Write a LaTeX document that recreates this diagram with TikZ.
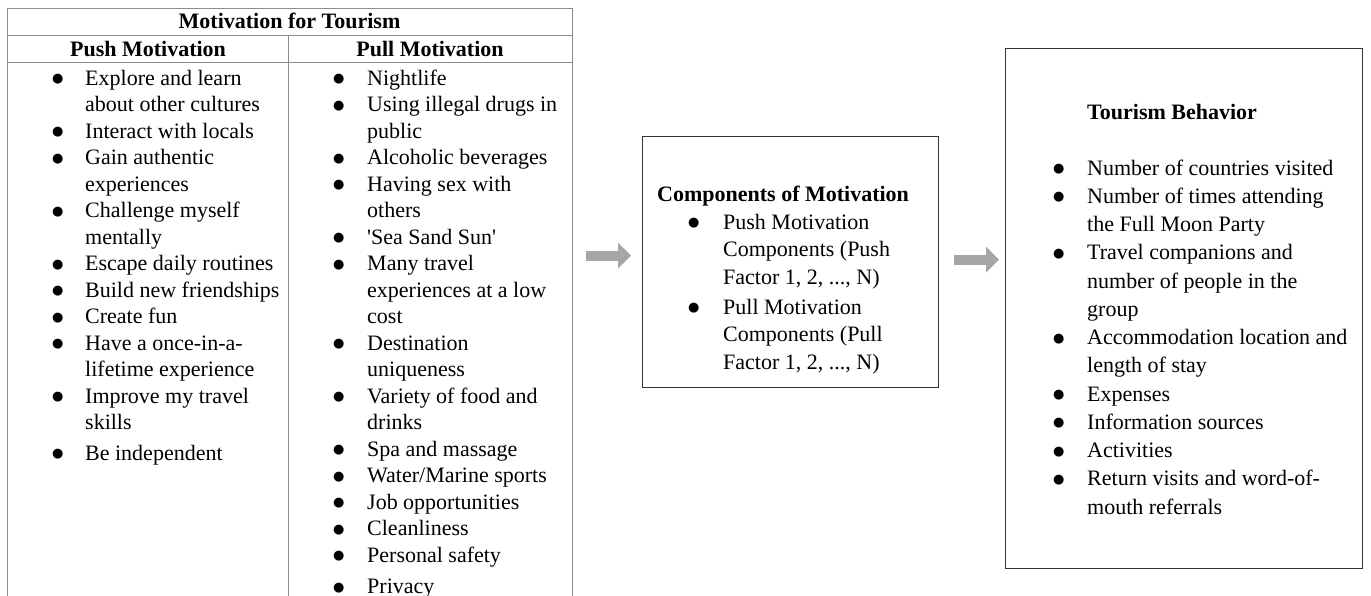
\documentclass[tikz,border=0pt]{standalone}
\usepackage{fontspec}
\setmainfont{Liberation Serif}
\newfontfamily\dotfont{DejaVu Sans}
\usetikzlibrary{arrows.meta, positioning, calc}

\newcommand{\bu}{\raisebox{2.5pt}{\dotfont\fontsize{13}{13}\selectfont ●}}

\tikzset{
  frame/.style={draw=black!80, line width=1.3pt, inner sep=0pt},
  gridline/.style={draw=black!45, line width=1pt},
  headtext/.style={font=\fontsize{22}{26}\selectfont\bfseries, inner sep=0pt},
  listtext/.style={inner sep=0pt, anchor=base west},
  flowarrow/.style={draw=black!35, line width=10pt, -{Triangle[length=13pt,width=25pt]}},
}

\begin{document}
\begin{tikzpicture}[x=1pt, y=-1pt]
  \clip (0,0) rectangle (1371,595);

  % table of motivations (runs on past the page)
  \node[gridline, inner sep=0pt, anchor=north west, minimum width=565pt, minimum height=600pt] (motiv) at (7,8) {};
  \draw[gridline] (7,35) -- (572,35);
  \draw[gridline] (7,62) -- (572,62);
  \draw[gridline] (288,35) -- (288,608);

  \node[headtext] (motiv-title) at (289.5,21) {Motivation for Tourism};
  \node[headtext] (push-head) at (148,49) {Push Motivation};
  \node[headtext] (pull-head) at (430,49) {Pull Motivation};

  \node[listtext] (push) at (52,85) {\fontsize{22}{26.5}\selectfont
    \begin{tabular}[t]{@{}p{33pt}@{}l@{}}
      \bu & Explore and learn\\
          & about other cultures\\
      \bu & Interact with locals\\
      \bu & Gain authentic\\
          & experiences\\
      \bu & Challenge myself\\
          & mentally\\
      \bu & Escape daily routines\\
      \bu & Build new friendships\\
      \bu & Create fun\\
      \bu & Have a once-in-a-\\
          & lifetime experience\\
      \bu & Improve my travel\\
          & skills\\[4pt]
      \bu & Be independent
    \end{tabular}};

  \node[listtext] (pull) at (333,85) {\fontsize{22}{26.5}\selectfont
    \begin{tabular}[t]{@{}p{34pt}@{}l@{}}
      \bu & Nightlife\\
      \bu & Using illegal drugs in\\
          & public\\
      \bu & Alcoholic beverages\\
      \bu & Having sex with\\
          & others\\
      \bu & \textquotesingle Sea Sand Sun\textquotesingle\\
      \bu & Many travel\\
          & experiences at a low\\
          & cost\\
      \bu & Destination\\
          & uniqueness\\
      \bu & Variety of food and\\
          & drinks\\
      \bu & Spa and massage\\
      \bu & Water/Marine sports\\
      \bu & Job opportunities\\
      \bu & Cleanliness\\
      \bu & Personal safety\\[5pt]
      \bu & Privacy
    \end{tabular}};

  % components box
  \node[frame, anchor=north west, minimum width=296pt, minimum height=251pt] (comp) at (642,136) {};
  \node[headtext, anchor=base west] (comp-title) at (657,201) {Components of Motivation};
  \node[listtext] (comp-list) at (688,229) {\fontsize{22}{27.5}\selectfont
    \begin{tabular}[t]{@{}p{35pt}@{}l@{}}
      \bu & Push Motivation\\
          & Components (Push\\
          & Factor 1, 2, ..., N)\\[2.5pt]
      \bu & Pull Motivation\\
          & Components (Pull\\
          & Factor 1, 2, ..., N)
    \end{tabular}};

  % behaviour box
  \node[frame, anchor=north west, minimum width=357pt, minimum height=520pt] (behav) at (1005,48) {};
  \node[headtext, anchor=base west] (behav-title) at (1087,119) {Tourism Behavior};
  \node[listtext] (behav-list) at (1053,175) {\fontsize{22}{28.25}\selectfont
    \begin{tabular}[t]{@{}p{34pt}@{}l@{}}
      \bu & Number of countries visited\\
      \bu & Number of times attending\\
          & the Full Moon Party\\
      \bu & Travel companions and\\
          & number of people in the\\
          & group\\
      \bu & Accommodation location and\\
          & length of stay\\
      \bu & Expenses\\
      \bu & Information sources\\
      \bu & Activities\\
      \bu & Return visits and word-of-\\
          & mouth referrals
    \end{tabular}};

  % arrows
  \coordinate (arrA) at ([yshift=6.5pt]comp.west);
  \coordinate (arrB) at ([yshift=2.5pt]comp.east);
  \draw[flowarrow, shorten <=13pt, shorten >=11pt] (motiv.east |- arrA) -- (arrA);
  \draw[flowarrow, shorten <=15pt, shorten >=6pt] (arrB) -- (behav.west |- arrB);
\end{tikzpicture}
\end{document}
